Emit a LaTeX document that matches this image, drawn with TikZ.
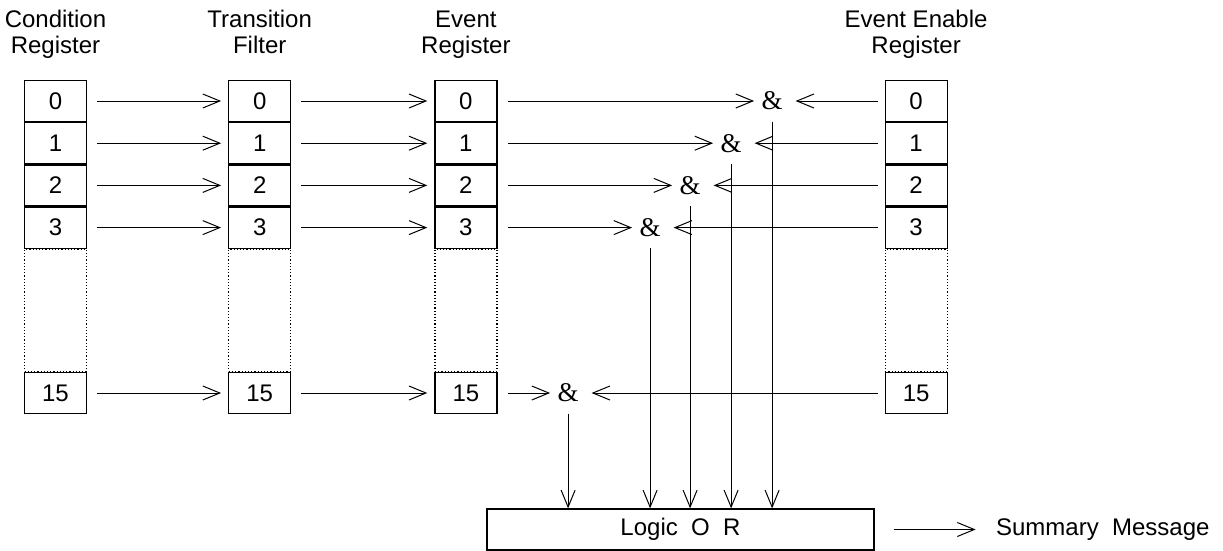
\documentclass[tikz,border=0pt]{standalone}
\usepackage{fontspec}
\setmainfont{Liberation Sans}
\newfontfamily\gatefont{Liberation Serif}
\usetikzlibrary{arrows.meta, positioning, calc}

\begin{document}
\begin{tikzpicture}[
    >={Straight Barb[length=17pt,width=14pt]},
    line width=1pt,
    font=\fontsize{24}{26}\selectfont,
    % --- block styles ---
    cell/.style={
      draw, rectangle, minimum width=62pt, minimum height=41pt,
      inner sep=0pt, line width=1.2pt},
    gapcell/.style={
      draw, rectangle, dotted, minimum width=62pt, minimum height=122pt,
      inner sep=0pt, line width=1.2pt},
    head/.style={align=center, inner sep=0pt},
    gate/.style={font=\gatefont\fontsize{27}{30}\selectfont, inner sep=2pt},
    orbox/.style={
      draw, rectangle, minimum width=387pt, minimum height=41pt,
      inner sep=0pt, line width=1.2pt},
    arr/.style={->, shorten <=10pt, shorten >=7pt},
    inarr/.style={->, shorten <=10pt, shorten >=5pt},
    maskarr/.style={->, shorten <=7pt, shorten >=10.5pt},
    downarr/.style={->, shorten <=9pt},
  ]
  \useasboundingbox (0,0) rectangle (1223pt,-551pt);

  % ── Condition register ──
  \node[cell] (cond0) at (55.5pt,-101pt) {0};
  \node[cell, below=0pt of cond0]    (cond1)   {1};
  \node[cell, below=0pt of cond1]    (cond2)   {2};
  \node[cell, below=0pt of cond2]    (cond3)   {3};
  \node[gapcell, below=0pt of cond3] (condgap) {};
  \node[cell, below=0pt of condgap]  (cond15)  {15};

  % ── Transition filter ──
  \node[cell, right=141pt of cond0]  (filt0)   {0};
  \node[cell, below=0pt of filt0]    (filt1)   {1};
  \node[cell, below=0pt of filt1]    (filt2)   {2};
  \node[cell, below=0pt of filt2]    (filt3)   {3};
  \node[gapcell, below=0pt of filt3] (filtgap) {};
  \node[cell, below=0pt of filtgap]  (filt15)  {15};

  % ── Event register ──
  \node[cell, right=143pt of filt0]  (evt0)    {0};
  \node[cell, below=0pt of evt0]     (evt1)    {1};
  \node[cell, below=0pt of evt1]     (evt2)    {2};
  \node[cell, below=0pt of evt2]     (evt3)    {3};
  \node[gapcell, below=0pt of evt3]  (evtgap)  {};
  \node[cell, below=0pt of evtgap]   (evt15)   {15};

  % ── Event enable register ──
  \node[cell, right=387pt of evt0]   (ena0)    {0};
  \node[cell, below=0pt of ena0]     (ena1)    {1};
  \node[cell, below=0pt of ena1]     (ena2)    {2};
  \node[cell, below=0pt of ena2]     (ena3)    {3};
  \node[gapcell, below=0pt of ena3]  (enagap)  {};
  \node[cell, below=0pt of enagap]   (ena15)   {15};

  % ── Headings ──
  \node[head, above=17.7pt of cond0] (hcond) {Condition\\Register\strut};
  \node[head, above=17.7pt of filt0] (hfilt) {Transition\\Filter\strut};
  \node[head, above=17.7pt of evt0]  (hevt)  {Event\\Register\strut};
  \node[head, above=17.7pt of ena0]  (hena)  {Event Enable\\Register\strut};

  % ── AND gates ──
  \node[gate] (and0)  at ($(ena0)+(-144pt,0)$)  {\&};
  \node[gate] (and1)  at ($(ena1)+(-185pt,0)$)  {\&};
  \node[gate] (and2)  at ($(ena2)+(-226pt,0)$)  {\&};
  \node[gate] (and3)  at ($(ena3)+(-266pt,0)$)  {\&};
  \node[gate] (and15) at ($(ena15)+(-348pt,0)$) {\&};

  % ── OR and summary ──
  \node[orbox] (lor) at (680.5pt,-529.5pt) {Logic~~O~~R};
  \node[inner sep=0pt, right=121pt of lor] (summ) {Summary~~Message};

  % ── Condition -> filter -> event ──
  \draw[arr] (cond0)  -- (filt0);
  \draw[arr] (cond1)  -- (filt1);
  \draw[arr] (cond2)  -- (filt2);
  \draw[arr] (cond3)  -- (filt3);
  \draw[arr] (cond15) -- (filt15);
  \draw[arr] (filt0)  -- (evt0);
  \draw[arr] (filt1)  -- (evt1);
  \draw[arr] (filt2)  -- (evt2);
  \draw[arr] (filt3)  -- (evt3);
  \draw[arr] (filt15) -- (evt15);

  % ── Event and enable into the gates ──
  \draw[inarr] (evt0)  -- (and0);
  \draw[inarr] (evt1)  -- (and1);
  \draw[inarr] (evt2)  -- (and2);
  \draw[inarr] (evt3)  -- (and3);
  \draw[inarr] (evt15) -- (and15);
  \draw[maskarr] (ena0)  -- (and0);
  \draw[maskarr] (ena1)  -- (and1);
  \draw[maskarr] (ena2)  -- (and2);
  \draw[maskarr] (ena3)  -- (and3);
  \draw[maskarr] (ena15) -- (and15);

  % ── Gates down to the OR ──
  \draw[downarr] (and0)  -- (and0 |- lor.north);
  \draw[downarr] (and1)  -- (and1 |- lor.north);
  \draw[downarr] (and2)  -- (and2 |- lor.north);
  \draw[downarr] (and3)  -- (and3 |- lor.north);
  \draw[downarr] (and15) -- (and15 |- lor.north);

  \draw[->, shorten <=19pt, shorten >=20pt] (lor) -- (summ);

\end{tikzpicture}
\end{document}
